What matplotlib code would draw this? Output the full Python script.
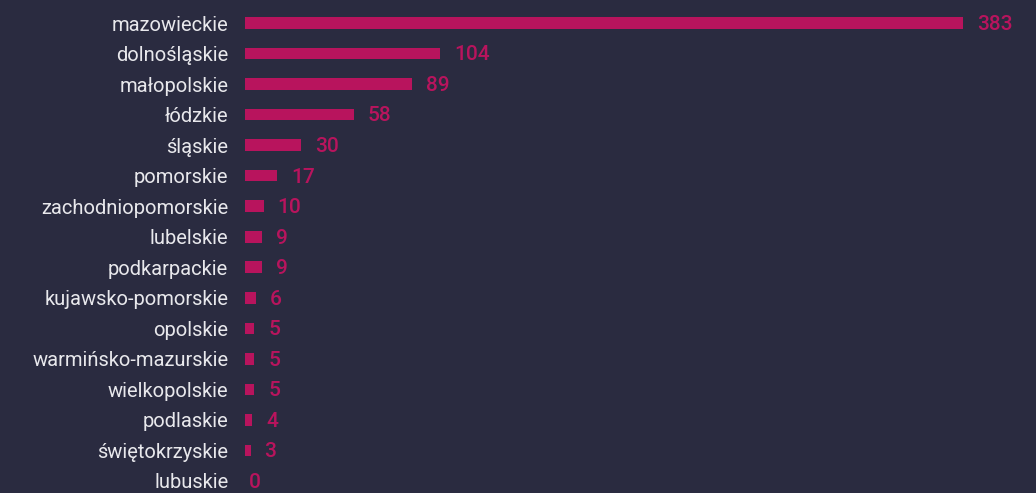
import matplotlib
matplotlib.use('Agg')
import matplotlib.pyplot as plt

# voivodeships and counts (top to bottom)
regions = ["mazowieckie", "dolnośląskie", "małopolskie", "łódzkie", "śląskie",
           "pomorskie", "zachodniopomorskie", "lubelskie", "podkarpackie",
           "kujawsko-pomorskie", "opolskie", "warmińsko-mazurskie",
           "wielkopolskie", "podlaskie", "świętokrzyskie", "lubuskie"]
counts = [383, 104, 89, 58, 30, 17, 10, 9, 9, 6, 5, 5, 5, 4, 3, 0]

BG = '#2a2b40'
BAR = '#b8145d'
TXT = '#e8e8ec'

plt.rcParams['font.family'] = ['Roboto', 'DejaVu Sans']

fig = plt.figure(figsize=(10.36, 4.93), dpi=100, facecolor=BG)
ax = fig.add_axes([245 / 1036, 0, 791 / 1036, 1])
ax.set_facecolor(BG)

ypos = list(range(len(regions)))
ax.barh(ypos, counts, height=0.38, color=BAR)

for y, v in zip(ypos, counts):
    off = 10 if v > 0 else 3
    ax.annotate(str(v), (v, y), xytext=(off, -1), textcoords='offset points',
                va='center', ha='left', color=BAR, fontsize=15, fontweight='medium')

ax.set_xlim(0, 383 * 791 / 718)
ax.set_ylim(15 + 12 / 30.533, -23 / 30.533)
ax.set_yticks(ypos)
ax.set_yticklabels(regions, color=TXT, fontsize=14.5)
ax.tick_params(axis='y', length=0, pad=12)
ax.set_xticks([])
for s in ax.spines.values():
    s.set_visible(False)

plt.savefig('out.png', dpi=100, facecolor=BG)
